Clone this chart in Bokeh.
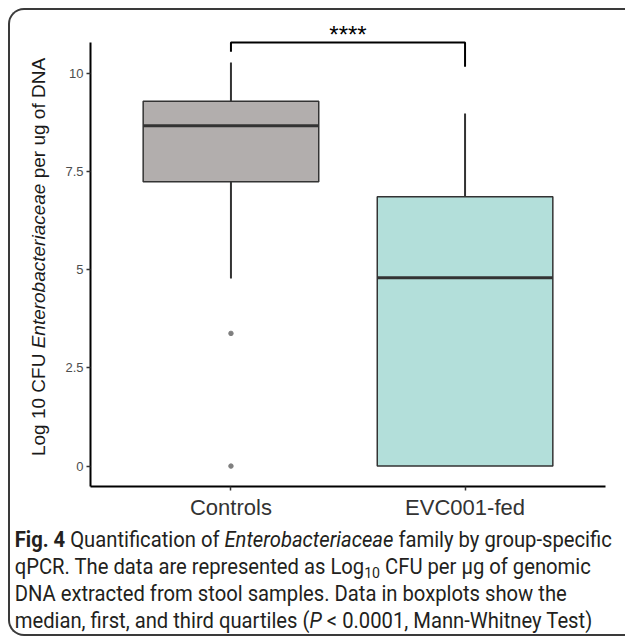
import numpy as np
from bokeh.plotting import figure
from bokeh.models import FixedTicker, Div, Range1d
from bokeh.layouts import column, row
from bokeh.embed import file_html
from bokeh.resources import INLINE
from bokeh.core.properties import value

# ---------------- data ----------------
groups = ["Controls", "EVC001-fed"]
group_pos = [1, 2]
upper_whisker = [10.28, 8.98]
q3 = [9.29, 6.86]
median = [8.67, 4.80]
q1 = [7.24, 0.0]
lower_whisker = [4.78, 0.0]
box_colors = ["#B2AEAD", "#B3DFDA"]
outlier_pos = [1, 1]
outlier_values = [3.38, 0.0]
bracket_left_low = 10.55
bracket_top = 10.79
bracket_right_low = 10.17
sig_label = "****"
y_ticks = [0, 2.5, 5, 7.5, 10]
y_tick_labels = ["0", "2.5", "5", "7.5", "10"]

FONT = "Liberation Sans"
BOX_W = 0.75
Y_LO, Y_HI = -0.52, 11.4

LEFT_W = 48
W, H = 567, 512
BORDER_T, BORDER_B = 8, 36
p = figure(width=W, height=H, output_backend="svg", toolbar_location=None,
           x_range=Range1d(0.4, 2.6), y_range=Range1d(Y_LO, Y_HI),
           min_border_left=32, min_border_right=20,
           min_border_top=BORDER_T, min_border_bottom=BORDER_B)
p.outline_line_color = None
p.xgrid.visible = False
p.ygrid.visible = False
p.background_fill_color = "white"
p.border_fill_color = "white"

pos = np.array(group_pos, dtype=float)

# whiskers
p.segment(x0=pos, x1=pos, y0=q3, y1=upper_whisker, line_color="#333333", line_width=2)
p.segment(x0=pos, x1=pos, y0=q1, y1=lower_whisker, line_color="#333333", line_width=2)
# boxes
p.vbar(x=pos, bottom=q1, top=q3, width=BOX_W, fill_color=box_colors,
       line_color="#333333", line_width=1.5)
# medians
p.segment(x0=pos - BOX_W / 2, x1=pos + BOX_W / 2, y0=median, y1=median,
          line_color="#333333", line_width=3)
# outliers
p.scatter(x=outlier_pos, y=outlier_values, size=4.5, fill_color="#7F7F7F",
          line_color="#7F7F7F")

# significance bracket
p.line(x=[pos[0], pos[0], pos[1], pos[1]],
       y=[bracket_left_low, bracket_top, bracket_top, bracket_right_low],
       line_color="black", line_width=2)
p.text(x=[pos.mean()], y=[bracket_top + 0.2], text=[sig_label],
       text_align="center", text_baseline="middle", text_font_size="24px",
       text_font=value(FONT), text_color="black")

# axes
p.xaxis.ticker = FixedTicker(ticks=group_pos)
p.xaxis.major_label_overrides = {gp: g for gp, g in zip(group_pos, groups)}
p.yaxis.ticker = FixedTicker(ticks=y_ticks)
p.yaxis.major_label_overrides = {t: l for t, l in zip(y_ticks, y_tick_labels)}
p.yaxis.bounds = (Y_LO, 10.79)
for ax in (p.xaxis, p.yaxis):
    ax.axis_line_color = "black"
    ax.axis_line_width = 2
    ax.major_tick_line_color = "#333333"
    ax.major_tick_line_width = 1.5
    ax.major_tick_out = 4
    ax.major_tick_in = 0
    ax.minor_tick_line_color = None
    ax.major_label_text_font = FONT
p.xaxis.major_label_text_font_size = "22px"
p.xaxis.major_label_text_color = "#333333"
p.xaxis.major_label_standoff = 4
p.yaxis.major_label_text_font_size = "13px"
p.yaxis.major_label_text_color = "#4D4D4D"
p.yaxis.major_label_standoff = 3

# y-axis title (HTML so that the genus name can be italic)
ytitle_html = (
    f'<div style="position:relative;width:{LEFT_W}px;height:{H - 20}px;">'
    '<div style="position:absolute;left:29px;top:247px;'
    'transform:translate(-50%,-50%) rotate(-90deg);white-space:nowrap;'
    f'font-family:\'{FONT}\';font-size:19px;color:#1A1A1A;">'
    'Log 10 CFU <i>Enterobacteriaceae</i> per ug of DNA</div></div>'
)
ytitle = Div(text=ytitle_html, width=LEFT_W, height=H, margin=0)

caption_html = (
    '<div style="font-family:\'Roboto\',sans-serif;font-size:21.5px;line-height:27px;'
    'color:#231F20;white-space:nowrap;padding-left:5px;padding-top:4px;'
    'transform:scaleX(0.94);transform-origin:left top;">'
    '<b>Fig. 4</b> Quantification of <i>Enterobacteriaceae</i> family by group-specific<br>'
    'qPCR. The data are represented as Log<sub style="font-size:0.7em;line-height:0;vertical-align:-0.25em;">10</sub>'
    ' CFU per \u03bcg of genomic<br>'
    'DNA extracted from stool samples. Data in boxplots show the<br>'
    'median, first, and third quartiles (<i>P</i>&nbsp;&lt;&nbsp;0.0001, Mann-Whitney Test)'
    '</div>'
)
cap = Div(text=caption_html, width=LEFT_W + W, height=112, margin=0)

layout = column(row(ytitle, p), cap,
                styles={"border": "2px solid #3A3A3A", "border-right": "none",
                        "border-top-left-radius": "16px",
                        "border-bottom-left-radius": "16px",
                        "background-color": "white", "margin-left": "8px",
                        "margin-top": "8px"})

open("out.html", "w").write(file_html(layout, INLINE))
